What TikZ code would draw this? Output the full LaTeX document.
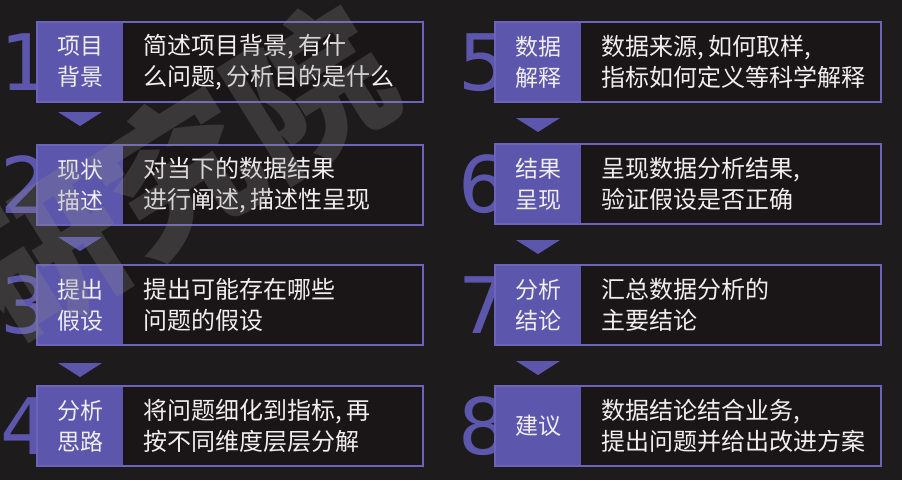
\documentclass[tikz,border=0pt]{standalone}
\usepackage{fontspec}
\setmainfont{Noto Sans CJK SC}
\newfontfamily\digitfont{DejaVu Sans}
\usetikzlibrary{calc}
\definecolor{bg}{HTML}{1E1B1C}
\definecolor{boxbg}{HTML}{1A1617}
\definecolor{purp}{HTML}{5C56AC}
\definecolor{purpline}{HTML}{6C64BA}
\definecolor{txt}{HTML}{F0EEEE}
\newcommand\cm{,\hspace{0.2em}}
\tikzset{
  numstyle/.style={text=purp, inner sep=0pt, anchor=base west, font=\digitfont\fontsize{78}{78}\selectfont},
  boxfill/.style={fill=boxbg, minimum width=386pt, minimum height=80pt, anchor=north west, inner sep=0pt, outer sep=0pt},
  boxline/.style={draw=purpline, line width=2pt},
  labelblock/.style={fill=purp, text=txt, minimum width=86pt, minimum height=80pt, anchor=north west, inner sep=0pt, outer sep=0pt, align=center, font=\fontsize{23}{31}\selectfont},
  desctext/.style={text=txt, anchor=west, inner sep=0pt, align=left, font=\fontsize{24}{31}\selectfont},
  tri/.style={fill=purp},
  watermark/.style={rotate=32, opacity=0.26, text=gray!90, inner sep=0pt, font=\bfseries\fontsize{155}{155}\selectfont},
}
\newcommand\myrow[6]{%
  \node[numstyle] (num#1) at (#2-37, #3+68) {#4};
  \node[boxfill] (box#1) at (#2,#3) {};
  \node[labelblock] (lab#1) at (#2,#3) {#5};
  \draw[boxline] (box#1.north west) rectangle (box#1.south east);
  \node[desctext] (desc#1) at (#2+106, #3+40) {#6};
}
\newcommand\mytri[2]{%
  \fill[tri] ($(lab#1.south)+(-22,#2)$) -- ($(lab#1.south)+(22,#2)$) -- ($(lab#1.south)+(0,#2+14)$) -- cycle;
}
\begin{document}
\begin{tikzpicture}[x=1pt,y=-1pt]
\fill[bg] (0,0) rectangle (902,480);
\useasboundingbox (0,0) rectangle (902,480);
\myrow{1}{37}{22}{1}{项目\\背景}{简述项目背景\cm 有什\\么问题\cm 分析目的是什么}
\myrow{2}{37}{145}{2}{现状\\描述}{对当下的数据结果\\进行阐述\cm 描述性呈现}
\myrow{3}{37}{265}{3}{提出\\假设}{提出可能存在哪些\\问题的假设}
\myrow{4}{37}{386}{4}{分析\\思路}{将问题细化到指标\cm 再\\按不同维度层层分解}
\myrow{5}{495}{22}{5}{数据\\解释}{数据来源\cm 如何取样\cm\\指标如何定义等科学解释}
\myrow{6}{495}{144}{6}{结果\\呈现}{呈现数据分析结果\cm\\验证假设是否正确}
\myrow{7}{495}{265}{7}{分析\\结论}{汇总数据分析的\\主要结论}
\myrow{8}{495}{386}{8}{建议}{数据结论结合业务\cm\\提出问题并给出改进方案}
\mytri{1}{10}
\mytri{2}{12}
\mytri{3}{18}
\mytri{5}{16}
\mytri{6}{16}
\mytri{7}{16}
\node[watermark] (wm) at (178,172) {研究院};
\end{tikzpicture}
\end{document}
